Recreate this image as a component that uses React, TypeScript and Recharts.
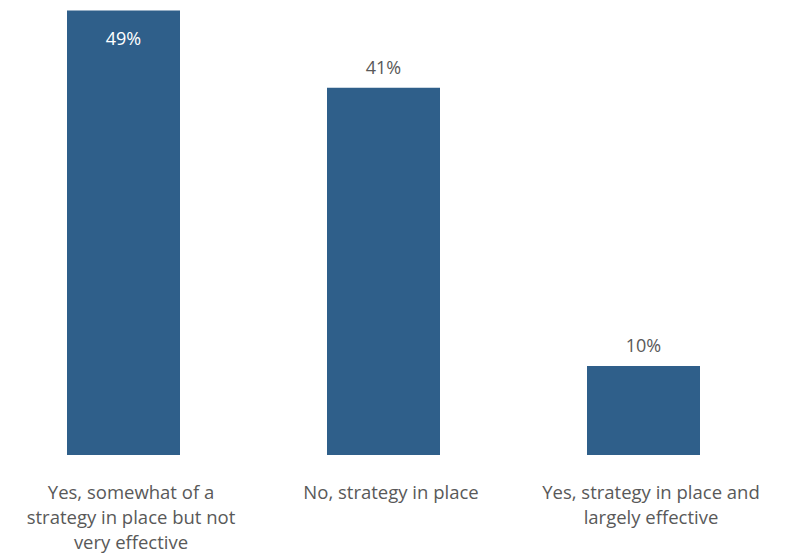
import React from 'react';
import { BarChart, Bar, XAxis, YAxis, LabelList } from 'recharts';

const categories = [
  'Yes, somewhat of a strategy in place but not very effective',
  'No, strategy in place',
  'Yes, strategy in place and largely effective',
];
const categoryLines = [
  ['Yes, somewhat of a', 'strategy in place but not', 'very effective'],
  ['No, strategy in place'],
  ['Yes, strategy in place and', 'largely effective'],
];
// shares; labels show them rounded
const shares = [49.4, 40.8, 9.9];

const data = categories.map((name, i) => ({ name, value: shares[i] }));

const FONT = '"Open Sans", sans-serif';
const BAR_COLOR = '#2f5f8a';
const TEXT_COLOR = '#595959';

const CategoryTick = (props: any) => {
  const { x, y, index } = props;
  const lines = categoryLines[index] || [];
  return (
    <g transform={`translate(${x + 8},${y})`}>
      <text textAnchor="middle" fontFamily={FONT} fontSize={18.5} fill={TEXT_COLOR}>
        {lines.map((line, i) => (
          <tspan key={i} x={0} dy={i === 0 ? 36 : 25}>{line}</tspan>
        ))}
      </text>
    </g>
  );
};

const ValueLabel = (props: any) => {
  const { x, y, width, value } = props;
  const cx = x + width / 2;
  // no room above the bar -> put the label inside, in white
  const inside = y < 40;
  return (
    <text
      x={cx}
      y={inside ? y + 28 : y - 21}
      textAnchor="middle"
      dominantBaseline="central"
      fontFamily={FONT}
      fontSize={18}
      fill={inside ? '#ffffff' : TEXT_COLOR}
    >
      {`${Math.round(value)}%`}
    </text>
  );
};

export default function App() {
  return (
    <div style={{ position: 'absolute', left: -7, top: 0 }}>
      <BarChart
        width={790}
        height={560}
        data={data}
        margin={{ top: 5, right: 10, bottom: 0, left: 0 }}
        barSize={113}
      >
        <XAxis
          dataKey="name"
          axisLine={false}
          tickLine={false}
          tick={<CategoryTick />}
          height={105}
          interval={0}
        />
        <YAxis hide domain={[0, 50]} />
        <Bar dataKey="value" fill={BAR_COLOR} isAnimationActive={false}>
          <LabelList dataKey="value" content={<ValueLabel />} />
        </Bar>
      </BarChart>
    </div>
  );
}
